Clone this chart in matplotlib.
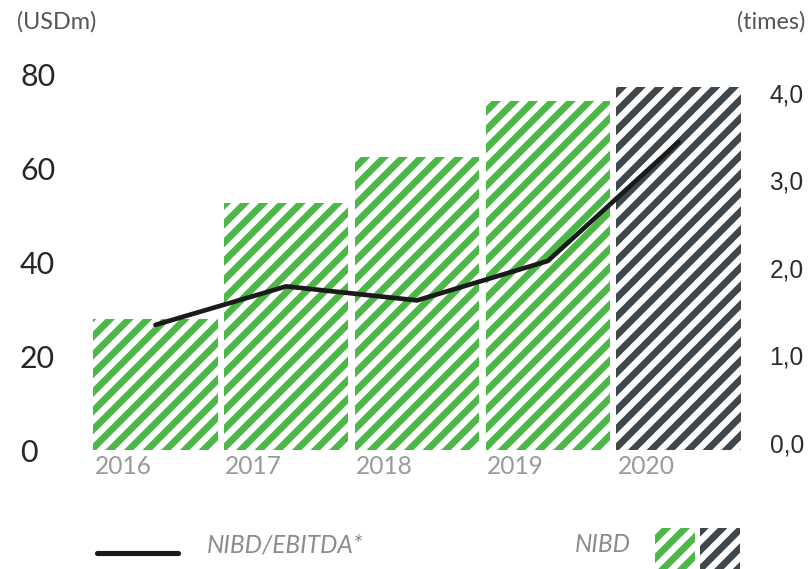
import matplotlib
matplotlib.use("Agg")
import matplotlib.pyplot as plt
from matplotlib.patches import Rectangle
from matplotlib.lines import Line2D

years = ["2016", "2017", "2018", "2019", "2020"]
nibd = [27.9, 52.7, 62.5, 74.5, 77.4]
ratio = [1.35, 1.79, 1.63, 2.08, 3.44]
left_ticks = [0, 20, 40, 60, 80]
right_ticks = [0, 1, 2, 3, 4]
right_labels = ["0,0", "1,0", "2,0", "3,0", "4,0"]

green = "#4db848"
dark = "#3f464c"
bar_colors = [green, green, green, green, dark]

DPI = 168
plt.rcParams["hatch.linewidth"] = 2.9
plt.rcParams["font.family"] = ["Lato", "DejaVu Sans"]

fig = plt.figure(figsize=(810 / DPI, 569 / DPI), dpi=DPI)
ax = fig.add_axes([90 / 810, 1 - 450 / 569, 655 / 810, 376 / 569])
ax2 = ax.twinx()

x = list(range(len(years)))
for xi, v, c in zip(x, nibd, bar_colors):
    ax.bar(xi, v, width=0.95, facecolor="white", edgecolor=c,
           linewidth=0, hatch="///", zorder=1)

ax2.plot(x, ratio, color="#1a1a1a", lw=2.0, solid_capstyle="round",
         solid_joinstyle="round", zorder=3)

ax.set_xlim(-0.501, 4.508)
ax.set_ylim(0, 80.2)
ax2.set_ylim(-0.08, 4.217)

for a in (ax, ax2):
    for s in a.spines.values():
        s.set_visible(False)
ax.set_xticks([])
ax.set_yticks(left_ticks)
ax.set_yticklabels([str(t) for t in left_ticks])
ax.tick_params(axis="y", length=0, pad=30, labelsize=13, labelcolor="#262626")
for lab in ax.get_yticklabels():
    lab.set_horizontalalignment("left")

ax2.set_yticks(right_ticks)
ax2.set_yticklabels(right_labels, fontfamily="Liberation Sans")
ax2.tick_params(axis="y", length=0, pad=10.5, labelsize=10.5, labelcolor="#2a2a2a")

# year labels sit left of each bar centre
for xi, y in zip(x, years):
    ax.text(xi - 0.25, -3.6, y, ha="center", va="center", fontsize=10.5,
            color="#9a9a9a")

fig.text(17 / 810, 1 - 22 / 569, "(USDm)", ha="left", va="center",
         fontsize=10, color="#555555")
fig.text(805 / 810, 1 - 22 / 569, "(times)", ha="right", va="center",
         fontsize=10, color="#555555")

# legend
fig.add_artist(Line2D([97 / 810, 178 / 810], [1 - 553 / 569, 1 - 553 / 569],
                      color="#1a1a1a", lw=2.2, solid_capstyle="round"))
fig.text(207 / 810, 1 - 545 / 569, "NIBD/EBITDA*", ha="left", va="center",
         fontsize=10.5, style="italic", color="#8c8c8c")
fig.text(575 / 810, 1 - 545 / 569, "NIBD", ha="left", va="center",
         fontsize=10.5, style="italic", color="#8c8c8c")
for x0, c in [(655, green), (700, dark)]:
    fig.add_artist(Rectangle((x0 / 810, 0), 40 / 810, 41 / 569,
                             transform=fig.transFigure, facecolor="white",
                             edgecolor=c, linewidth=0, hatch="///"))

fig.savefig("out.png", dpi=DPI, facecolor="white")
